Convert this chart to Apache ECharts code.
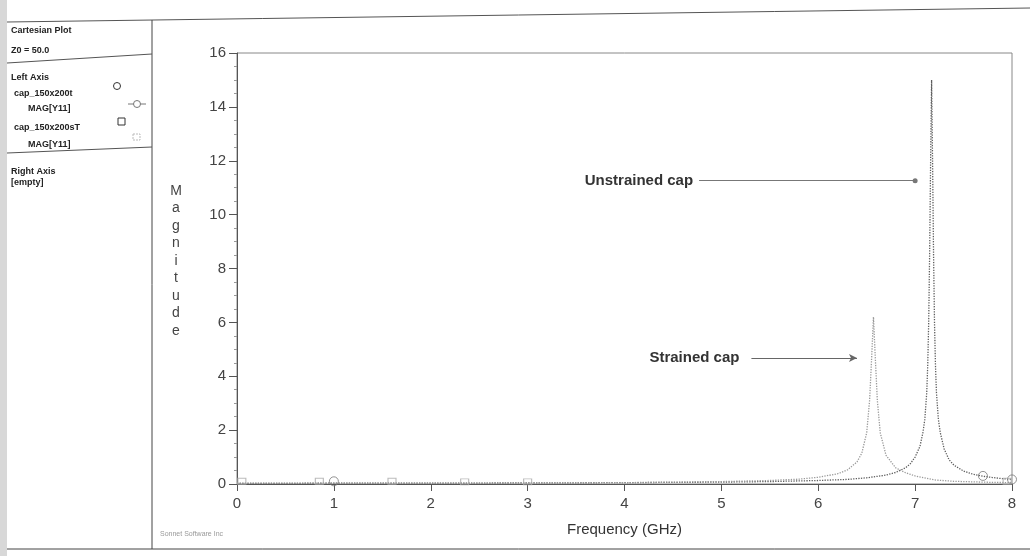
<!DOCTYPE html>
<html><head><meta charset="utf-8">
<script src="https://cdn.jsdelivr.net/npm/echarts@6/dist/echarts.min.js"></script>
<style>html,body{margin:0;padding:0;background:#fff;}#c{width:1030px;height:556px;}</style>
</head><body><div id="c"></div>
<script>
// Frequency (GHz) and |Y11| magnitude
const unstrainedFreq = [0, 1, 2, 3, 4, 4.5, 5, 5.5, 6, 6.3, 6.5, 6.7, 6.8, 6.9, 6.95, 7.0, 7.05, 7.08, 7.1, 7.12, 7.13, 7.14, 7.15, 7.16, 7.17, 7.18, 7.19, 7.2, 7.21, 7.22, 7.24, 7.26, 7.3, 7.35, 7.4, 7.5, 7.6, 7.7, 7.8, 7.9, 8.0];
const unstrainedMag  = [0.02, 0.03, 0.03, 0.04, 0.05, 0.06, 0.07, 0.09, 0.13, 0.17, 0.23, 0.33, 0.43, 0.6, 0.75, 1.0, 1.4, 1.9, 2.4, 3.4, 4.4, 6.0, 8.6, 12.0, 15.0, 12.0, 8.6, 6.0, 4.4, 3.4, 2.4, 1.9, 1.3, 0.9, 0.7, 0.48, 0.36, 0.29, 0.24, 0.2, 0.17];
const strainedFreq = [0, 1, 2, 3, 4, 4.5, 5, 5.5, 5.8, 6.0, 6.2, 6.3, 6.4, 6.45, 6.5, 6.53, 6.55, 6.57, 6.59, 6.61, 6.64, 6.7, 6.8, 6.9, 7.0, 7.2, 7.4, 7.6, 7.8, 8.0];
const strainedMag  = [0.03, 0.03, 0.03, 0.04, 0.05, 0.07, 0.09, 0.13, 0.18, 0.25, 0.38, 0.52, 0.82, 1.15, 1.9, 3.1, 4.6, 6.2, 4.6, 3.1, 1.9, 1.06, 0.6, 0.42, 0.3, 0.15, 0.1, 0.08, 0.06, 0.05];
// marker positions
const unstrainedMarkFreq = [1.0, 7.7, 8.0];
const unstrainedMarkMag  = [0.1, 0.3, 0.17];
const strainedMarkFreq = [0.05, 0.85, 1.6, 2.35, 3.0, 7.95];
const strainedMarkMag  = [0.1, 0.1, 0.1, 0.08, 0.08, 0.1];
const xTicks = [0, 1, 2, 3, 4, 5, 6, 7, 8];
const yTicks = [0, 2, 4, 6, 8, 10, 12, 14, 16];
const yAxisTitle = 'Magnitude';
const legendLines = ['Cartesian Plot', 'Z0 = 50.0', 'Left Axis', 'cap_150x200t', 'MAG[Y11]', 'cap_150x200sT', 'MAG[Y11]', 'Right Axis', '[empty]'];

const zip = (a, b) => a.map((v, i) => [v, b[i]]);
const chart = echarts.init(document.getElementById('c'), null, {renderer: 'canvas'});
const F = 'Liberation Sans, Arial, sans-serif';
const lp = (t, x, y, extra) => Object.assign({type: 'text', left: x, top: y, style: {text: t, font: 'bold 9px ' + F, fill: '#222'}}, extra || {});

chart.setOption({
  animation: false,
  backgroundColor: '#fff',
  grid: {left: 237, right: 18, top: 53, bottom: 72, show: true, borderColor: '#888', borderWidth: 1},
  xAxis: {
    type: 'value', min: 0, max: 8, interval: 1,
    name: 'Frequency (GHz)', nameLocation: 'middle', nameGap: 38,
    nameTextStyle: {fontFamily: F, fontSize: 15, color: '#333'},
    axisLine: {lineStyle: {color: '#555'}},
    axisTick: {show: true, length: 7, lineStyle: {color: '#555'}},
    minorTick: {show: false},
    splitLine: {show: false},
    axisLabel: {fontFamily: F, fontSize: 15, color: '#444', margin: 12,
      formatter: v => xTicks.includes(v) ? String(v) : ''}
  },
  yAxis: {
    type: 'value', min: 0, max: 16, interval: 2,
    axisLine: {show: true, lineStyle: {color: '#555'}},
    axisTick: {show: true, length: 8, lineStyle: {color: '#555'}},
    minorTick: {show: true, splitNumber: 4, length: 3, lineStyle: {color: '#999'}},
    splitLine: {show: false},
    axisLabel: {fontFamily: F, fontSize: 15, color: '#444', margin: 11,
      formatter: v => yTicks.includes(v) ? String(v) : ''}
  },
  series: [
    {
      name: 'cap_150x200t', type: 'line', data: zip(unstrainedFreq, unstrainedMag),
      showSymbol: false, smooth: false,
      lineStyle: {color: '#5e5e5e', width: 1.3, type: 'dotted'},
      markLine: {
        silent: true, symbol: ['none', 'circle'], symbolSize: 5,
        lineStyle: {color: '#777', width: 1, type: 'solid'},
        itemStyle: {color: '#222'},
        label: {show: true, position: 'start', distance: 6, formatter: 'Unstrained cap',
          fontFamily: F, fontWeight: 'bold', fontSize: 15, color: '#333'},
        data: [[{coord: [4.77, 11.26]}, {coord: [7.0, 11.26]}]]
      }
    },
    {
      name: 'cap_150x200sT', type: 'line', data: zip(strainedFreq, strainedMag),
      showSymbol: false, smooth: false,
      lineStyle: {color: '#9a9a9a', width: 1.3, type: 'dotted'},
      markLine: {
        silent: true, symbol: ['none', 'arrow'], symbolSize: [6, 8],
        lineStyle: {color: '#666', width: 1, type: 'solid'},
        itemStyle: {color: '#666'},
        label: {show: true, position: 'start', distance: 12, formatter: 'Strained cap',
          fontFamily: F, fontWeight: 'bold', fontSize: 15, color: '#333'},
        data: [[{coord: [5.31, 4.68]}, {coord: [6.4, 4.68]}]]
      }
    },
    {
      type: 'scatter', data: zip(unstrainedMarkFreq, unstrainedMarkMag), z: 5,
      symbol: 'circle', symbolSize: 9,
      itemStyle: {color: 'rgba(255,255,255,0)', borderColor: '#777', borderWidth: 1}
    },
    {
      type: 'scatter', data: zip(strainedMarkFreq, strainedMarkMag), z: 5,
      symbol: 'rect', symbolSize: [8, 6],
      itemStyle: {color: 'rgba(255,255,255,0)', borderColor: '#aaa', borderWidth: 1}
    }
  ],
  graphic: [
    {type: 'rect', shape: {x: 0, y: 0, width: 7, height: 556}, style: {fill: '#d8d8d8'}},
    {type: 'line', shape: {x1: 7, y1: 22, x2: 1030, y2: 8}, style: {stroke: '#555', lineWidth: 1}},
    {type: 'line', shape: {x1: 7, y1: 549, x2: 1030, y2: 549}, style: {stroke: '#444', lineWidth: 1}},
    {type: 'line', shape: {x1: 152, y1: 20, x2: 152, y2: 549}, style: {stroke: '#444', lineWidth: 1}},
    {type: 'line', shape: {x1: 7, y1: 63, x2: 152, y2: 54}, style: {stroke: '#555', lineWidth: 1}},
    {type: 'line', shape: {x1: 7, y1: 153, x2: 152, y2: 147}, style: {stroke: '#555', lineWidth: 1}},
    {type: 'text', x: 176, y: 182, style: {text: yAxisTitle.split('').join('\n'), font: '14px ' + F,
      fill: '#444', align: 'center', verticalAlign: 'top', lineHeight: 17.5}},
    lp(legendLines[0], 11, 26),
    lp(legendLines[1], 11, 46),
    lp(legendLines[2], 11, 73),
    lp(legendLines[3], 14, 89),
    lp(legendLines[4], 28, 104),
    lp(legendLines[5], 14, 123),
    lp(legendLines[6], 28, 140),
    lp(legendLines[7], 11, 167),
    lp(legendLines[8], 11, 178),
    {type: 'circle', shape: {cx: 117, cy: 86, r: 3.5}, style: {fill: 'none', stroke: '#333', lineWidth: 1}},
    {type: 'line', shape: {x1: 128, y1: 104, x2: 146, y2: 104}, style: {stroke: '#777', lineWidth: 1}},
    {type: 'circle', shape: {cx: 137, cy: 104, r: 3.5}, style: {fill: '#fff', stroke: '#777', lineWidth: 1}},
    {type: 'rect', shape: {x: 118, y: 118, width: 7, height: 7}, style: {fill: 'none', stroke: '#333', lineWidth: 1}},
    {type: 'rect', shape: {x: 133, y: 134, width: 7, height: 6}, style: {fill: 'none', stroke: '#bbb', lineWidth: 1, lineDash: [2, 1]}},
    {type: 'text', left: 160, top: 531, style: {text: 'Sonnet Software Inc', font: '7px ' + F, fill: '#999'}}
  ]
});
</script></body></html>
